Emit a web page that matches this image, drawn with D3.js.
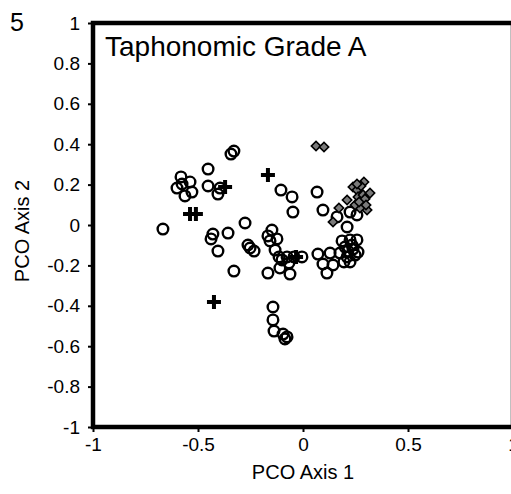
<!DOCTYPE html>
<html>
<head>
<meta charset="utf-8">
<script src="https://d3js.org/d3.v7.min.js"></script>
<style>
  body { margin: 0; background: #fff; }
  text { font-family: "Liberation Sans", Arial, sans-serif; fill: #000; }
</style>
</head>
<body>
<div id="chart"></div>
<script>

// PCO scores, one array per marker type
var circlePts = [
  [-0.667, -0.02], [-0.452, 0.277], [-0.452, 0.193], [-0.343, 0.351], [-0.329, 0.366],
  [-0.581, 0.238], [-0.576, 0.203], [-0.538, 0.213], [-0.600, 0.183], [-0.562, 0.144],
  [-0.529, 0.163], [-0.405, 0.153], [-0.395, 0.183], [-0.429, -0.045], [-0.438, -0.069],
  [-0.357, -0.040], [-0.405, -0.129], [-0.276, 0.010], [-0.262, -0.099], [-0.252, -0.114],
  [-0.329, -0.228], [-0.105, 0.173], [-0.052, 0.139], [-0.048, 0.064], [0.067, 0.163],
  [0.095, 0.074], [-0.148, -0.025], [-0.167, -0.054], [-0.124, -0.069], [-0.157, -0.079],
  [-0.233, -0.129], [-0.133, -0.124], [-0.114, -0.158], [-0.100, -0.173], [-0.076, -0.158],
  [-0.043, -0.158], [-0.005, -0.158], [-0.067, -0.188], [-0.110, -0.213], [-0.167, -0.238],
  [-0.062, -0.243], [0.071, -0.144], [0.095, -0.193], [0.114, -0.238], [0.129, -0.139],
  [0.143, -0.198], [-0.143, -0.406], [-0.143, -0.470], [-0.138, -0.525], [-0.095, -0.540],
  [-0.076, -0.554], [-0.086, -0.564], [0.162, 0.040], [0.224, 0.064], [0.257, 0.050],
  [0.210, -0.010], [0.186, -0.079], [0.224, -0.074], [0.257, -0.074], [0.200, -0.109],
  [0.233, -0.099], [0.176, -0.139], [0.210, -0.158], [0.248, -0.149], [0.195, -0.183],
  [0.224, -0.183], [0.262, -0.134], [0.214, -0.129], [0.238, -0.119]
];

var diamondPts = [
  [0.062, 0.391], [0.100, 0.386], [0.143, 0.015], [0.171, 0.084], [0.210, 0.124],
  [0.238, 0.188], [0.257, 0.173], [0.262, 0.139], [0.281, 0.114], [0.286, 0.149],
  [0.290, 0.213], [0.319, 0.158], [0.305, 0.074], [0.271, 0.084], [0.248, 0.099],
  [0.276, 0.193], [0.295, 0.129], [0.300, 0.099], [0.267, 0.114], [0.257, 0.203]
];

var crossPts = [
  [-0.538, 0.054], [-0.510, 0.054], [-0.371, 0.188], [-0.167, 0.248],
  [-0.424, -0.381], [-0.033, -0.158]
];

var xTicks = [-1, -0.5, 0, 0.5, 1];
var yTicks = [-1, -0.8, -0.6, -0.4, -0.2, 0, 0.2, 0.4, 0.6, 0.8, 1];

// dimensions
var margin = {top: 23, right: -2, bottom: 67, left: 93},
    width = 511 - margin.left - margin.right,
    height = 494 - margin.top - margin.bottom;

var svg = d3.select("#chart")
  .append("svg")
    .attr("width", 511)
    .attr("height", 494)
  .append("g")
    .attr("transform", "translate(" + margin.left + "," + margin.top + ")");

var x = d3.scaleLinear().domain([-1, 1]).range([0, width]);
var y = d3.scaleLinear().domain([-1, 1]).range([height, 0]);

// plain hyphen for negatives, like the original
var fmt = function(d) { return String(d); };

// X axis
var xAxis = svg.append("g")
  .attr("transform", "translate(0," + height + ")")
  .call(d3.axisBottom(x).tickValues(xTicks).tickFormat(fmt).tickSize(5).tickPadding(6));

// Y axis
var yAxis = svg.append("g")
  .call(d3.axisLeft(y).tickValues(yTicks).tickFormat(fmt).tickSize(5).tickPadding(8));

[xAxis, yAxis].forEach(function(a) {
  a.select(".domain").remove();
  a.selectAll(".tick line").attr("stroke", "#000").attr("stroke-width", 2);
  a.selectAll(".tick text").style("font-size", "19px").attr("fill", "#000");
});

// frame
svg.append("rect")
  .attr("x", 0).attr("y", 0)
  .attr("width", width).attr("height", height)
  .attr("fill", "none")
  .attr("stroke", "#000")
  .attr("stroke-width", 4.5);

// circles
svg.append("g")
  .selectAll("circle")
  .data(circlePts)
  .enter()
  .append("circle")
    .attr("cx", function(d) { return x(d[0]); })
    .attr("cy", function(d) { return y(d[1]); })
    .attr("r", 5.3)
    .attr("fill", "none")
    .attr("stroke", "#000")
    .attr("stroke-width", 2.4);

// diamonds
svg.append("g")
  .selectAll("path")
  .data(diamondPts)
  .enter()
  .append("path")
    .attr("d", d3.symbol().type(d3.symbolSquare).size(44))
    .attr("transform", function(d) { return "translate(" + x(d[0]) + "," + y(d[1]) + ") rotate(45)"; })
    .attr("fill", "#7a7a7a")
    .attr("stroke", "#000")
    .attr("stroke-width", 1.6);

// crosses
svg.append("g")
  .selectAll("path")
  .data(crossPts)
  .enter()
  .append("path")
    .attr("d", "M-7,0H7M0,-7V7")
    .attr("transform", function(d) { return "translate(" + x(d[0]) + "," + y(d[1]) + ")"; })
    .attr("stroke", "#000")
    .attr("stroke-width", 4);

// title inside the plot
svg.append("text")
  .attr("x", 12)
  .attr("y", 33)
  .style("font-size", "28px")
  .text("Taphonomic Grade A");

// panel number
d3.select("#chart svg").append("text")
  .attr("x", 10)
  .attr("y", 31)
  .style("font-size", "25px")
  .text("5");

// axis titles
svg.append("text")
  .attr("x", x(0))
  .attr("y", height + 52)
  .attr("text-anchor", "middle")
  .style("font-size", "20px")
  .text("PCO Axis 1");

svg.append("text")
  .attr("transform", "translate(-64," + (y(0) + 6) + ") rotate(-90)")
  .attr("text-anchor", "middle")
  .style("font-size", "20px")
  .text("PCO Axis 2");

</script>
</body>
</html>
